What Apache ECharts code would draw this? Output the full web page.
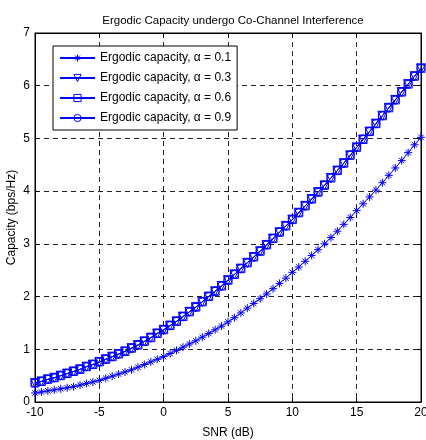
<!DOCTYPE html>
<html>
<head>
<meta charset="utf-8">
<style>
  html, body { margin: 0; padding: 0; background: #fff; }
  #chart { width: 426px; height: 440px; }
</style>
<script src="https://cdn.jsdelivr.net/npm/echarts@6/dist/echarts.min.js"></script>
</head>
<body>
<div id="chart"></div>
<script>
  // SNR grid, -10 .. 20 dB in 0.5 dB steps
  const snrDb = [
    -10, -9.5, -9, -8.5, -8, -7.5, -7, -6.5, -6, -5.5,
    -5, -4.5, -4, -3.5, -3, -2.5, -2, -1.5, -1, -0.5,
    0, 0.5, 1, 1.5, 2, 2.5, 3, 3.5, 4, 4.5,
    5, 5.5, 6, 6.5, 7, 7.5, 8, 8.5, 9, 9.5,
    10, 10.5, 11, 11.5, 12, 12.5, 13, 13.5, 14, 14.5,
    15, 15.5, 16, 16.5, 17, 17.5, 18, 18.5, 19, 19.5, 20
  ];

  // alpha = 0.1 (lower curve)
  const capAlpha01 = [
    0.17, 0.19, 0.21, 0.23, 0.25, 0.27, 0.29, 0.32, 0.35, 0.38,
    0.41, 0.45, 0.49, 0.53, 0.57, 0.61, 0.66, 0.71, 0.76, 0.81,
    0.86, 0.92, 0.98, 1.04, 1.10, 1.16, 1.23, 1.30, 1.37, 1.44,
    1.52, 1.60, 1.69, 1.78, 1.87, 1.96, 2.05, 2.15, 2.25, 2.35,
    2.46, 2.56, 2.67, 2.78, 2.89, 3.00, 3.12, 3.24, 3.37, 3.50,
    3.63, 3.76, 3.89, 4.02, 4.16, 4.30, 4.44, 4.58, 4.73, 4.88, 5.02
  ];

  // alpha = 0.3 / 0.6 / 0.9 (curves lie on top of each other)
  const capAlpha03 = [
    0.36, 0.39, 0.43, 0.46, 0.50, 0.54, 0.58, 0.62, 0.67, 0.71,
    0.76, 0.81, 0.86, 0.91, 0.96, 1.02, 1.08, 1.15, 1.22, 1.30,
    1.37, 1.45, 1.53, 1.62, 1.71, 1.80, 1.90, 2.00, 2.10, 2.20,
    2.31, 2.42, 2.53, 2.64, 2.75, 2.86, 2.98, 3.10, 3.22, 3.34,
    3.46, 3.59, 3.72, 3.85, 3.98, 4.11, 4.25, 4.39, 4.53, 4.68,
    4.83, 4.98, 5.13, 5.28, 5.43, 5.58, 5.73, 5.88, 6.03, 6.18, 6.33
  ];
  const capAlpha06 = capAlpha03;
  const capAlpha09 = capAlpha03;

  const seriesNames = [
    'Ergodic capacity, α = 0.1',
    'Ergodic capacity, α = 0.3',
    'Ergodic capacity, α = 0.6',
    'Ergodic capacity, α = 0.9'
  ];
  const xTicks = [-10, -5, 0, 5, 10, 15, 20];
  const yTicks = [0, 1, 2, 3, 4, 5, 6, 7];

  const blue = '#0000ff';
  const font = 'Liberation Sans, Arial, sans-serif';
  const asterisk = 'path://M5,0L5,10M0,5L10,5M1.6,1.6L8.4,8.4M8.4,1.6L1.6,8.4';
  const hollow = { color: 'rgba(255,255,255,0)', borderColor: blue, borderWidth: 1 };

  function pairs(ys) {
    return snrDb.map((x, i) => [x, ys[i]]);
  }

  function makeSeries(name, ys, symbol, size, rotate) {
    return {
      name: name,
      type: 'line',
      data: pairs(ys),
      symbol: symbol,
      symbolSize: size,
      symbolRotate: rotate || 0,
      showSymbol: true,
      showAllSymbol: true,
      lineStyle: { color: blue, width: 1 },
      itemStyle: hollow,
      emphasis: { disabled: true },
      z: 3
    };
  }

  const chart = echarts.init(document.getElementById('chart'));

  const dashed = { color: '#222', type: [5, 4], width: 1 };

  chart.setOption({
    animation: false,
    backgroundColor: '#fff',
    title: {
      text: 'Ergodic Capacity undergo Co-Channel Interference',
      left: 228,
      top: 10,
      textAlign: 'center',
      textStyle: { fontFamily: font, fontSize: 11.5, fontWeight: 'normal', color: '#000' }
    },
    legend: {
      orient: 'vertical',
      left: 53,
      top: 46,
      itemWidth: 35,
      itemHeight: 9,
      itemGap: 8,
      padding: [6, 6, 6, 6],
      backgroundColor: '#fff',
      borderColor: '#000',
      borderWidth: 1,
      borderRadius: 0,
      textStyle: { fontFamily: font, fontSize: 12, color: '#000' },
      data: seriesNames.map(n => ({ name: n, itemStyle: hollow }))
    },
    grid: {
      left: 35, right: 5, top: 33, bottom: 38,
      outerBoundsMode: 'none',
      show: true, borderColor: '#000', borderWidth: 1, backgroundColor: 'transparent'
    },
    xAxis: [{
      type: 'value',
      min: xTicks[0],
      max: xTicks[xTicks.length - 1],
      interval: 5,
      name: 'SNR (dB)',
      nameLocation: 'middle',
      nameGap: 25,
      nameMoveOverlap: false,
      nameTextStyle: { fontFamily: font, fontSize: 12, color: '#000' },
      axisLine: { onZero: false, lineStyle: { color: '#000' } },
      axisTick: { inside: true, length: 4, lineStyle: { color: '#000' } },
      axisLabel: { fontFamily: font, fontSize: 12, color: '#000', margin: 5 },
      splitLine: { show: true, lineStyle: dashed }
    }, {
      type: 'value',
      position: 'top',
      min: xTicks[0],
      max: xTicks[xTicks.length - 1],
      interval: 5,
      axisLine: { onZero: false, lineStyle: { color: '#000' } },
      axisTick: { inside: true, length: 4, lineStyle: { color: '#000' } },
      axisLabel: { show: false },
      splitLine: { show: false }
    }],
    yAxis: [{
      type: 'value',
      min: yTicks[0],
      max: yTicks[yTicks.length - 1],
      interval: 1,
      name: 'Capacity (bps/Hz)',
      nameLocation: 'middle',
      nameGap: 17,
      nameMoveOverlap: false,
      nameTextStyle: { fontFamily: font, fontSize: 12, color: '#000' },
      axisLine: { show: true, onZero: false, lineStyle: { color: '#000' } },
      axisTick: { show: true, inside: true, length: 4, lineStyle: { color: '#000' } },
      axisLabel: { fontFamily: font, fontSize: 12, color: '#000', margin: 5 },
      splitLine: { show: true, lineStyle: dashed }
    }, {
      type: 'value',
      position: 'right',
      min: yTicks[0],
      max: yTicks[yTicks.length - 1],
      interval: 1,
      axisLine: { show: true, onZero: false, lineStyle: { color: '#000' } },
      axisTick: { show: true, inside: true, length: 4, lineStyle: { color: '#000' } },
      axisLabel: { show: false },
      splitLine: { show: false }
    }],
    series: [
      makeSeries(seriesNames[0], capAlpha01, asterisk, 8),
      makeSeries(seriesNames[1], capAlpha03, 'triangle', 9, 180),
      makeSeries(seriesNames[2], capAlpha06, 'rect', 8),
      makeSeries(seriesNames[3], capAlpha09, 'circle', 8)
    ]
  });
</script>
</body>
</html>
